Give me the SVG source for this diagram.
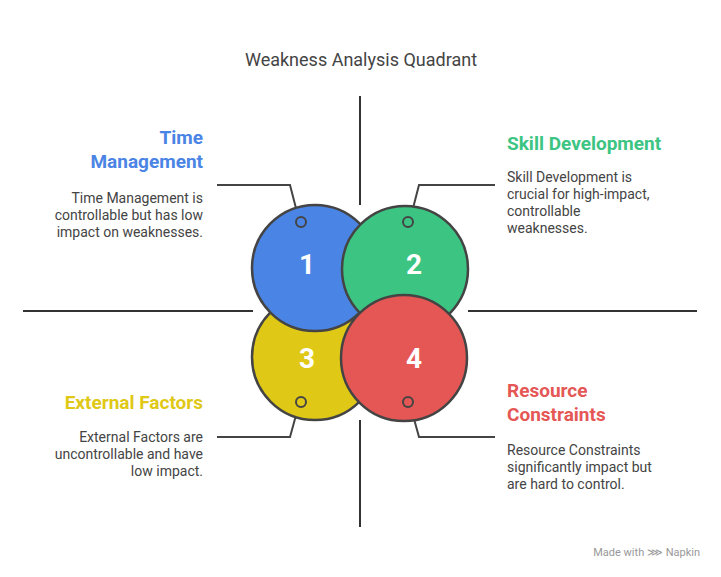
<svg xmlns="http://www.w3.org/2000/svg" width="721" height="577" viewBox="0 0 721 577">
<style>
text{font-family:Roboto,"Liberation Sans",sans-serif}
.ax{stroke:#333;stroke-width:2;fill:none}
.ln{stroke:#444;stroke-width:2;fill:none}
.c{stroke:#444;stroke-width:2.5}
.n{fill:#fff;font-size:28px;font-weight:bold;text-anchor:middle}
.h{font-size:19px;font-weight:bold}
.d{font-size:14px;fill:#444}
.dot{fill:none;stroke:#444;stroke-width:2}
</style>
<rect width="721" height="577" fill="#fff"/>
<text x="361" y="66" text-anchor="middle" font-size="18" fill="#444">Weakness Analysis Quadrant</text>
<g id="axes">
<path class="ax" d="M360 96V205M360 420V527M23 311H253M468 311H697"/>
</g>
<g id="connectors">
<path class="ln" d="M217 185H290L298 216"/>
<path class="ln" d="M495 185H419L411 216"/>
<path class="ln" d="M217 437H290L298 408"/>
<path class="ln" d="M495 437H419L411 408"/>
</g>
<g id="node3"><circle class="c" cx="315" cy="357" r="63" fill="#dfc816"/><text class="n" x="307" y="368">3</text><circle class="dot" cx="301" cy="402" r="5"/></g>
<g id="node1"><circle class="c" cx="315" cy="268" r="63" fill="#4a84e4"/><text class="n" x="307" y="274">1</text><circle class="dot" cx="301" cy="222" r="5"/></g>
<g id="node2"><circle class="c" cx="405" cy="269" r="63" fill="#3cc483"/><text class="n" x="414" y="274">2</text><circle class="dot" cx="408" cy="222" r="5"/></g>
<g id="node4"><circle class="c" cx="404" cy="358" r="63" fill="#e55755"/><text class="n" x="414" y="368">4</text><circle class="dot" cx="408" cy="402" r="5"/></g>
<g id="label1"><text class="h" fill="#4a84e4" text-anchor="end"><tspan x="203" y="144">Time</tspan><tspan x="203" y="168">Management</tspan></text>
<text class="d" text-anchor="end"><tspan x="203" y="203">Time Management is</tspan><tspan x="203" y="220">controllable but has low</tspan><tspan x="203" y="237">impact on weaknesses.</tspan></text></g>
<g id="label2"><text class="h" fill="#3cc483" x="507" y="150">Skill Development</text>
<text class="d"><tspan x="507" y="182">Skill Development is</tspan><tspan x="507" y="199">crucial for high-impact,</tspan><tspan x="507" y="216">controllable</tspan><tspan x="507" y="233">weaknesses.</tspan></text></g>
<g id="label3"><text class="h" fill="#dfc816" text-anchor="end" x="203" y="409">External Factors</text>
<text class="d" text-anchor="end"><tspan x="203" y="442">External Factors are</tspan><tspan x="203" y="459">uncontrollable and have</tspan><tspan x="203" y="476">low impact.</tspan></text></g>
<g id="label4"><text class="h" fill="#e55755"><tspan x="507" y="397">Resource</tspan><tspan x="507" y="421">Constraints</tspan></text>
<text class="d"><tspan x="507" y="455">Resource Constraints</tspan><tspan x="507" y="472">significantly impact but</tspan><tspan x="507" y="489">are hard to control.</tspan></text></g>
<text x="700" y="556" text-anchor="end" font-size="11" fill="#999">Made with ⋙ Napkin</text>
</svg>
